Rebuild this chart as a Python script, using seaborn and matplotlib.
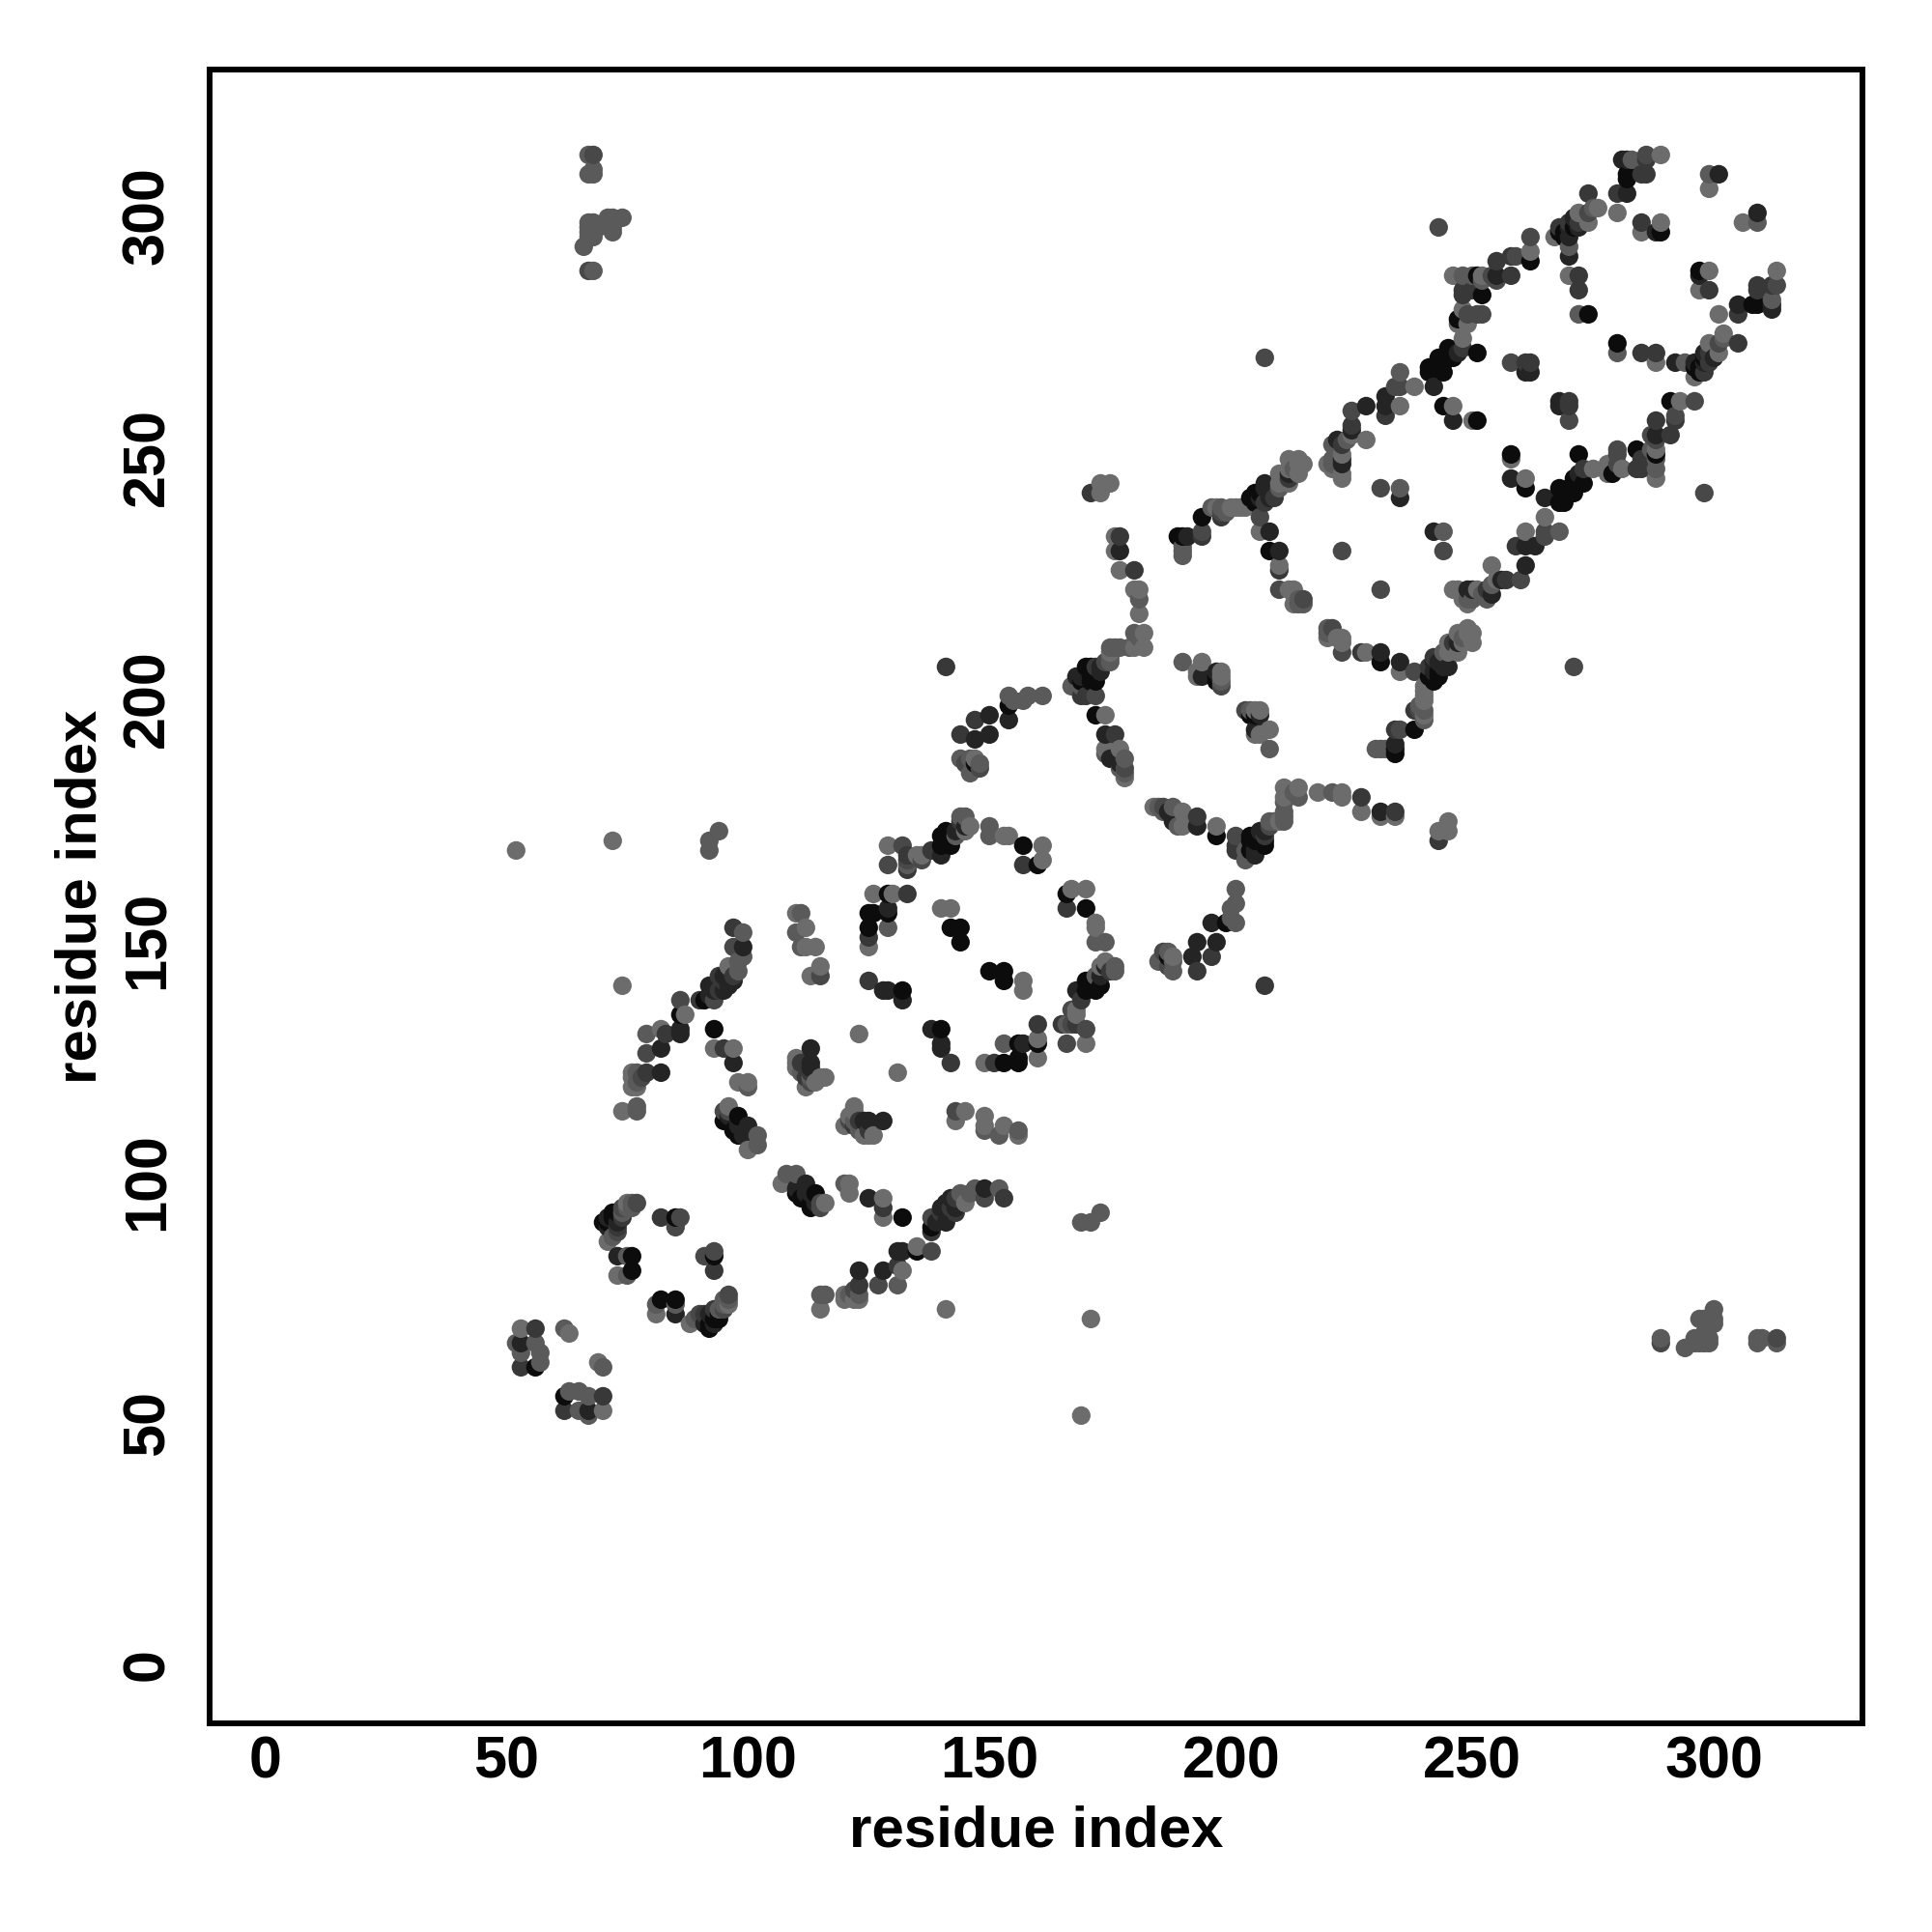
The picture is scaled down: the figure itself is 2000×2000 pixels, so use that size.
import numpy as np
import pandas as pd
import seaborn as sns
import matplotlib
matplotlib.use("Agg")
import matplotlib.pyplot as plt
from matplotlib.transforms import ScaledTranslation

# residue contacts (i < j), grouped by grey shade
shade_108 = [(53,70),(63,69),(75,96),(71,88),(73,81),(74,141),(74,115),(76,120),(77,120),(76,122),(76,123),(82,132),(87,135),(96,145),
    (93,128),(97,128),(98,121),(100,121),(96,116),(100,107),(110,126),(112,120),(110,124),(115,122),(116,122),(114,121),(110,125),(123,131),
    (110,156),(112,153),(112,149),(114,149),(115,145),(113,143),(126,160),(130,160),(125,149),(140,157),(142,157),
    (129,170),(135,168),(136,168),(145,173),(146,174),(153,172),(154,172),(161,170),(161,167),(52,169),(72,171),(147,188),
    (182,214),(182,211),(180,211),(181,218),(180,223),(181,223),(177,227),(176,231),(176,234),(174,197),(177,190),(178,184),(173,243),(173,245),(175,245),(174,190),(175,210),
    (194,208),(193,206),(198,205),(198,206),(193,205),(197,240),(201,240),(202,240),(210,247),(210,245),(212,245),(212,250),(214,250),(215,249),(206,235),(210,228),(212,223),(213,223),(213,220),(211,246),(212,248),(214,247),(214,249),(213,222),(203,240),(200,240),
    (223,247),(223,251),(225,255),(228,254),(223,246),(221,248),(235,261),(238,265),(220,249),
    (248,275),(247,278),(249,278),(248,281),(252,288),(246,288),(262,293),(246,261),(250,258),
    (267,296),(272,301),(276,302),(274,299),(270,288),(280,301),(289,313),(289,299),(285,297),(299,306)]
shade_90 = [(62,70),(52,67),(56,67),(57,65),(53,65),(57,63),(76,95),(74,94),(72,89),(75,85),(75,81),(75,95),(76,96),
    (77,115),(77,116),(77,121),(77,123),(79,131),(98,144),(98,146),(99,147),(99,152),(100,120),(102,110),(102,108),
    (113,122),(111,123),(111,156),(110,152),(111,149),(129,153),(133,166),(143,172),(144,176),(145,176),(150,174),(150,172),(92,171),(94,173),(92,169),
    (146,185),(144,188),(154,201),(155,200),(157,200),(158,201),(161,201),(146,188),(148,187),
    (167,203),(175,209),(175,211),(177,211),(180,214),(181,213),(181,221),(174,189),(178,188),(178,185),(177,186),(169,203),(175,208),(176,211),(179,211),
    (190,208),(198,204),(190,231),(190,230),(199,239),(198,240),(213,248),(214,221),(210,244),(214,220),(215,220),(196,240),(190,232),
    (221,249),(221,253),(224,254),(222,252),(221,250),(235,244),(235,268),(252,287),(248,288),(250,288),
    (270,294),(275,302),(272,280),(283,312),(299,309),
    (67,313),(67,309),(68,309),(68,310),(66,294),(67,296),(67,298),(68,296),(67,297),(67,299),(68,299),(69,298),(71,300),(72,297),(72,298),(72,300),(74,300),(68,289)]
shade_72 = [(77,96),(73,90),(85,91),(86,93),(74,95),(78,122),(79,127),(86,138),(93,138),(97,149),(95,115),(96,115),(113,121),(115,143),
    (132,170),(129,166),(136,167),(133,167),(145,187),(148,186),(172,201),(174,208),(178,186),
    (198,203),(198,239),(206,238),(210,223),(215,221),(194,235),(225,260),(234,265),(231,244),
    (235,265),(249,280),(252,280),(251,280),(255,287),(259,292),(262,296),(243,298),(258,270),(254,288),
    (274,301),(286,313),(68,313),(67,289),(223,231),(207,271)]
shade_56 = [(56,70),(53,62),(82,93),(74,93),(73,91),(83,131),(90,138),(94,140),(94,143),(95,142),(97,143),(97,153),(79,123),(95,128),
    (111,125),(112,122),(113,123),(125,142),(133,160),(125,151),(133,168),(133,165),(138,169),(157,166),(144,175),(144,193),(147,196),
    (169,201),(172,207),(176,193),(177,234),(171,243),(180,227),(170,201),(194,234),(198,238),(207,241),(209,242),(212,246),(210,227),
    (223,253),(225,257),(232,259),(248,273),(248,284),(250,285),(248,285),(255,291),(258,288),(258,292),(261,270),(262,270),
    (270,299),(274,305),(272,288),(272,285),(280,305),(285,309),(286,309),(285,299),(286,312),(272,299),(268,298),(141,207)]
shade_36 = [(53,67),(73,92),(71,91),(73,85),(71,93),(82,123),(82,128),(86,131),(86,132),(92,139),(92,141),(93,140),(95,143),(95,140),(96,141),(97,142),(99,149),
    (97,125),(100,112),(99,110),(98,113),(96,114),(98,112),(113,128),(113,125),(113,124),(128,140),(129,140),(132,138),(129,157),(140,168),(143,173),(145,174),
    (147,192),(150,193),(150,197),(154,196),(168,205),(173,207),(174,193),(175,188),(177,231),(177,187),(169,205),(173,206),
    (194,205),(197,206),(191,234),(206,242),(207,245),(208,243),(208,235),(210,231),(207,244),(208,242),(212,247),
    (222,254),(223,250),(223,249),(225,256),(228,261),(232,261),(232,263),(235,242),(242,265),(255,288),(246,258),(261,268),(262,268),(247,272),
    (270,296),(270,292),(271,300),(272,298),(282,305),(282,312),(288,297),(301,309),(281,312),(270,298)]
shade_12 = [(56,62),(72,94),(70,92),(76,85),(76,82),(85,93),(72,93),(71,92),(73,94),(86,135),(91,138),
    (93,132),(95,113),(98,114),(97,111),(96,113),(98,110),(132,140),(125,156),(126,156),(129,156),(129,160),(125,153),(142,153),(144,153),(144,150),
    (140,170),(140,172),(141,173),(141,171),(142,170),(157,170),(160,166),(147,187),(154,199),
    (169,204),(170,207),(171,205),(172,204),(172,197),(171,204),(171,207),
    (197,205),(197,204),(190,234),(194,238),(204,242),(205,241),(205,243),(208,231),(205,242),(206,243),(189,234),
    (241,268),(241,269),(242,269),(244,268),(243,271),(246,271),(245,273),(251,272),(247,279),(252,284),(251,288),(262,291),(244,261),(251,258),(245,272),(244,270),(243,270),
    (268,297),(269,297),(274,280),(282,309),(282,308),(289,297),(269,296),(271,298)]
shade_groups = {108: shade_108, 90: shade_90, 72: shade_72, 56: shade_56, 36: shade_36, 12: shade_12}
tick_values = [0, 50, 100, 150, 200, 250, 300]
axis_label = "residue index"

rows = []
for shade, pairs in shade_groups.items():
    for a, b in pairs:
        rows.append((a, b, shade))
        rows.append((b, a, shade))   # the contact map is symmetric
df = pd.DataFrame(rows, columns=["i", "j", "shade"]).drop_duplicates(["i", "j"])
df = df.sort_values(["i", "j"], kind="stable")
palette = {v: "#{0:02x}{0:02x}{0:02x}".format(v) for v in shade_groups}

sns.set_theme(style="white")
plt.rcParams["font.family"] = ["Liberation Sans", "DejaVu Sans"]
plt.rcParams["font.weight"] = "bold"

fig = plt.figure(figsize=(20, 20), dpi=100)
L, R, T, B = 216.7, 1928.0, 72.0, 1784.0
X0, Y0 = 274.3, 1725.4
ax = fig.add_axes([L/2000, 1 - B/2000, (R-L)/2000, (B-T)/2000])
sns.scatterplot(data=df, x="i", y="j", hue="shade", palette=palette, s=192,
                linewidth=0, legend=False, ax=ax, zorder=3)
ax.set_xlim((L-X0)/5, (R-X0)/5)
ax.set_ylim((Y0-B)/5, (Y0-T)/5)
ax.set_xticks(tick_values)
ax.set_yticks(tick_values)
for s in ax.spines.values():
    s.set_visible(True)
    s.set_linewidth(4.3)
    s.set_color("black")
    s.set_capstyle("projecting")
ax.tick_params(axis="both", which="major", length=7.2, width=2.2, color="black",
               labelsize=44, labelcolor="black")
ax.tick_params(axis="x", pad=1.5)
ax.tick_params(axis="y", pad=17.5)
up = ScaledTranslation(0, 2.5/100, fig.dpi_scale_trans)
for lab in ax.get_xticklabels():
    lab.set_fontweight("bold")
for lab in ax.get_yticklabels():
    lab.set_fontweight("bold")
    lab.set_rotation(90)
    lab.set_va("center")
    lab.set_transform(lab.get_transform() + up)
ax.set_xlabel(axis_label, fontsize=43.2, fontweight="bold", color="black", va="baseline")
ax.set_ylabel(axis_label, fontsize=43.2, fontweight="bold", color="black", va="baseline")
ax.xaxis.set_label_coords(0.5, (B-1912)/(B-T))
ax.yaxis.set_label_coords((99.5-L)/(R-L), 0.5)
fig.savefig("out.png", dpi=100, facecolor="white")
